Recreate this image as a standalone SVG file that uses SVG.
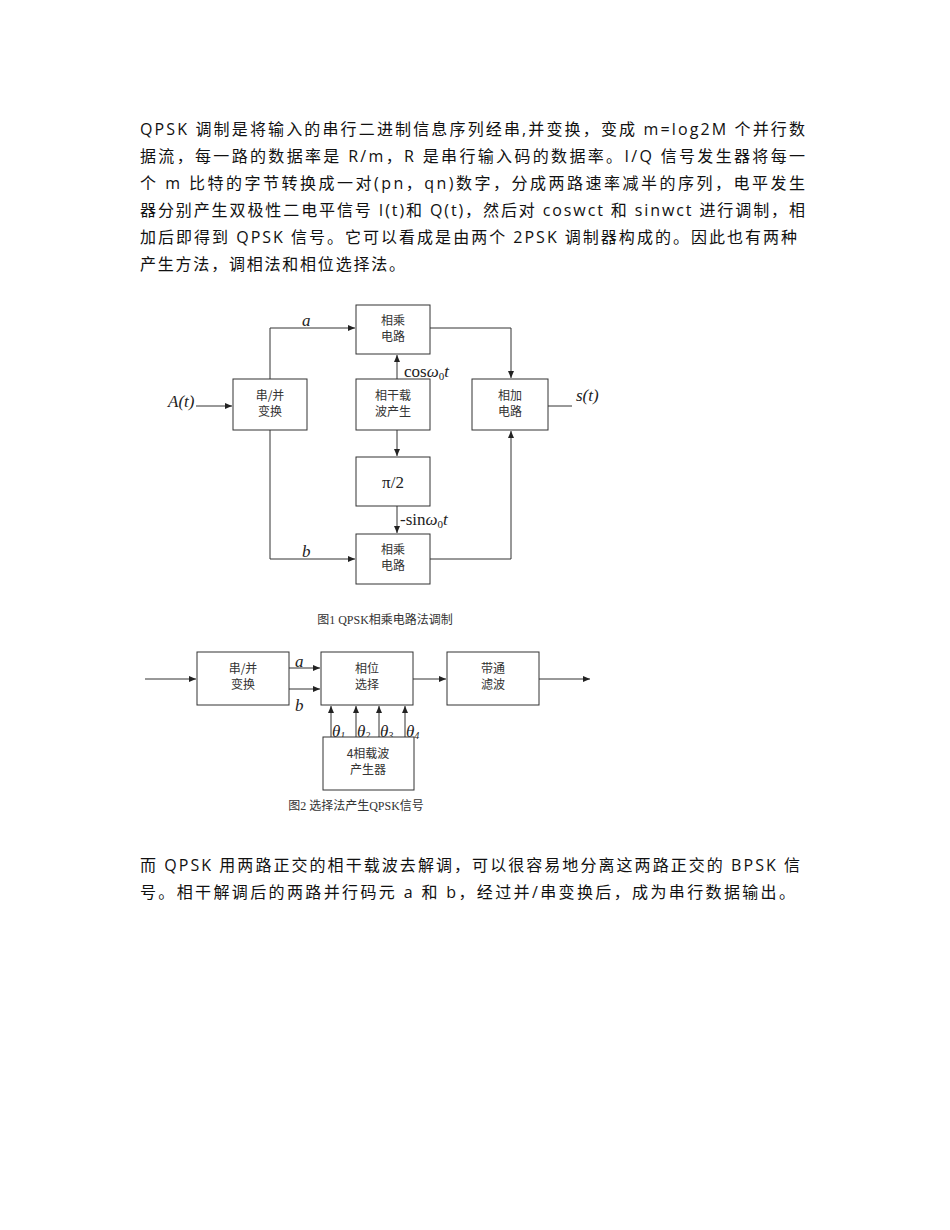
<svg xmlns="http://www.w3.org/2000/svg" width="950" height="1230" viewBox="0 0 950 1230">
<defs>
<marker id="ah" markerWidth="8" markerHeight="8" refX="7" refY="3" orient="auto" markerUnits="userSpaceOnUse"><path d="M0,0 L7,3 L0,6 z" fill="#222"/></marker>
<style>
.p{font-family:"Open Sans","Noto Sans CJK SC",sans-serif;font-size:16px;fill:#111}
.b{fill:#fff;stroke:#333;stroke-width:1}
.l{fill:none;stroke:#333;stroke-width:1}
.a{fill:none;stroke:#333;stroke-width:1;marker-end:url(#ah)}
.t{font-family:"Noto Sans CJK SC",sans-serif;font-size:12px;fill:#333;text-anchor:middle}
.m{font-family:"Liberation Serif",serif;font-size:17px;fill:#222}
.c{font-family:"Liberation Serif","Noto Sans CJK SC",serif;font-size:12px;fill:#333;text-anchor:middle}
</style>
</defs>
<rect width="950" height="1230" fill="#fff"/>
<g id="text-top">
<text class="p" x="140" y="135" textLength="665" lengthAdjust="spacing">QPSK 调制是将输入的串行二进制信息序列经串,并变换，变成 m=log2M 个并行数</text>
<text class="p" x="140" y="162" textLength="665" lengthAdjust="spacing">据流，每一路的数据率是 R/m，R 是串行输入码的数据率。I/Q 信号发生器将每一</text>
<text class="p" x="140" y="189" textLength="665" lengthAdjust="spacing">个 m 比特的字节转换成一对(pn，qn)数字，分成两路速率减半的序列，电平发生</text>
<text class="p" x="140" y="216" textLength="665" lengthAdjust="spacing">器分别产生双极性二电平信号 I(t)和 Q(t)，然后对 coswct 和 sinwct 进行调制，相</text>
<text class="p" x="140" y="243" textLength="657" lengthAdjust="spacing">加后即得到 QPSK 信号。它可以看成是由两个 2PSK 调制器构成的。因此也有两种</text>
<text class="p" x="140" y="270" textLength="265" lengthAdjust="spacing">产生方法，调相法和相位选择法。</text>
</g>
<g id="connectors">
<line class="a" x1="196" y1="406" x2="232" y2="406"/>
<polyline class="a" points="270,379 270,328 355,328"/>
<polyline class="a" points="270,430 270,559 355,559"/>
<line class="a" x1="397" y1="379" x2="397" y2="355"/>
<line class="a" x1="397" y1="430" x2="397" y2="456"/>
<line class="a" x1="397" y1="506" x2="397" y2="533"/>
<polyline class="a" points="430,328 511,328 511,378"/>
<polyline class="a" points="430,559 511,559 511,431"/>
<line class="l" x1="548" y1="406" x2="572" y2="406"/>
<line class="a" x1="145" y1="679" x2="196" y2="679"/>
<line class="a" x1="289" y1="668" x2="320" y2="668"/>
<line class="a" x1="289" y1="689" x2="320" y2="689"/>
<line class="a" x1="413" y1="679" x2="446" y2="679"/>
<line class="a" x1="539" y1="679" x2="590" y2="679"/>
<line class="a" x1="331" y1="737" x2="331" y2="706"/>
<line class="a" x1="356" y1="737" x2="356" y2="706"/>
<line class="a" x1="379" y1="737" x2="379" y2="706"/>
<line class="a" x1="405" y1="737" x2="405" y2="706"/>
</g>
<g id="labels">
<text class="m" x="168" y="407" font-style="italic">A(t)</text>
<text class="m" x="302" y="326" font-style="italic">a</text>
<text class="m" x="302" y="557" font-style="italic">b</text>
<text class="m" x="404" y="377">cos<tspan font-style="italic">ω</tspan><tspan font-size="11" dy="3">0</tspan><tspan font-style="italic" dy="-3">t</tspan></text>
<text class="m" x="400" y="525">-sin<tspan font-style="italic">ω</tspan><tspan font-size="11" dy="3">0</tspan><tspan font-style="italic" dy="-3">t</tspan></text>
<text class="m" x="576" y="401" font-style="italic">s(t)</text>
<text class="c" x="385" y="624">图1 QPSK相乘电路法调制</text>
<text class="m" x="295" y="667" font-style="italic">a</text>
<text class="m" x="295" y="711" font-style="italic">b</text>
<text class="m" x="332" y="737" font-style="italic">θ<tspan font-size="10" dy="2">1</tspan></text>
<text class="m" x="357" y="737" font-style="italic">θ<tspan font-size="10" dy="2">2</tspan></text>
<text class="m" x="380" y="737" font-style="italic">θ<tspan font-size="10" dy="2">3</tspan></text>
<text class="m" x="406" y="737" font-style="italic">θ<tspan font-size="10" dy="2">4</tspan></text>
<text class="c" x="356" y="810">图2  选择法产生QPSK信号</text>
</g>
<g id="sp1"><rect class="b" x="233" y="379" width="74" height="51"/><text class="t" x="270" y="400">串/并</text><text class="t" x="270" y="416">变换</text></g>
<g id="mul1"><rect class="b" x="356" y="305" width="74" height="49"/><text class="t" x="393" y="325">相乘</text><text class="t" x="393" y="341">电路</text></g>
<g id="carrier"><rect class="b" x="356" y="379" width="74" height="51"/><text class="t" x="393" y="400">相干载</text><text class="t" x="393" y="416">波产生</text></g>
<g id="pi2"><rect class="b" x="356" y="457" width="74" height="49"/><text class="m" x="393" y="488" text-anchor="middle">π/2</text></g>
<g id="mul2"><rect class="b" x="356" y="534" width="74" height="50"/><text class="t" x="393" y="554">相乘</text><text class="t" x="393" y="570">电路</text></g>
<g id="adder"><rect class="b" x="472" y="379" width="76" height="51"/><text class="t" x="510" y="400">相加</text><text class="t" x="510" y="416">电路</text></g>
<g id="sp2"><rect class="b" x="197" y="652" width="92" height="53"/><text class="t" x="243" y="673">串/并</text><text class="t" x="243" y="689">变换</text></g>
<g id="phase"><rect class="b" x="321" y="652" width="92" height="53"/><text class="t" x="367" y="673">相位</text><text class="t" x="367" y="689">选择</text></g>
<g id="bpf"><rect class="b" x="447" y="652" width="92" height="53"/><text class="t" x="493" y="673">带通</text><text class="t" x="493" y="689">滤波</text></g>
<g id="gen"><rect class="b" x="323" y="737" width="91" height="53"/><text class="t" x="368" y="758">4相载波</text><text class="t" x="368" y="774">产生器</text></g>
<g id="text-bottom">
<text class="p" x="140" y="871" textLength="660" lengthAdjust="spacing">而 QPSK 用两路正交的相干载波去解调，可以很容易地分离这两路正交的 BPSK 信</text>
<text class="p" x="140" y="898" textLength="655" lengthAdjust="spacing">号。相干解调后的两路并行码元 a 和 b，经过并/串变换后，成为串行数据输出。</text>
</g>
</svg>
